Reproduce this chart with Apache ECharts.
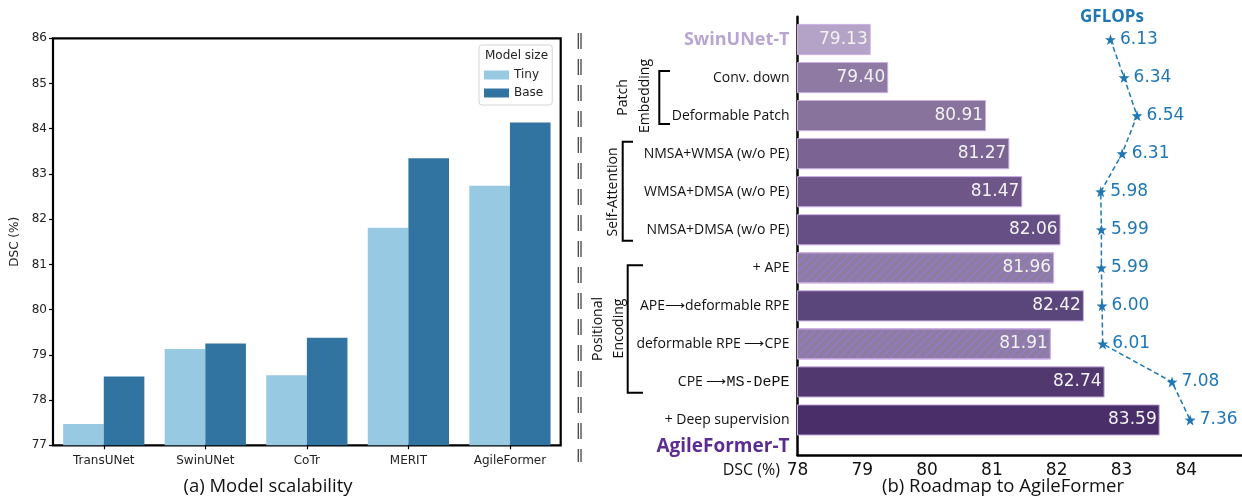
<!DOCTYPE html>
<html><head><meta charset="utf-8">
<script src="https://cdn.jsdelivr.net/npm/echarts@6/dist/echarts.min.js"></script>
<style>html,body{margin:0;padding:0;background:#fff}#c{width:1242px;height:497px}</style>
</head><body><div id="c"></div>
<script>
// ---------- data: (a) Model scalability ----------
const models = ['TransUNet', 'SwinUNet', 'CoTr', 'MERIT', 'AgileFormer'];
const sizeNames = ['Tiny', 'Base'];
const tinyDSC = [77.47, 79.13, 78.55, 81.81, 82.74];
const baseDSC = [78.52, 79.25, 79.38, 83.35, 84.14];
const dscTicksA = [77, 78, 79, 80, 81, 82, 83, 84, 85, 86];

// ---------- data: (b) Roadmap to AgileFormer ----------
const steps = ['SwinUNet-T', 'Conv. down', 'Deformable Patch', 'NMSA+WMSA (w/o PE)',
  'WMSA+DMSA (w/o PE)', 'NMSA+DMSA (w/o PE)', '+ APE', 'APE\u27F6deformable RPE',
  'deformable RPE \u27F6CPE', 'CPE \u27F6MS-DePE', '+ Deep supervision'];
const stepDSC = [79.13, 79.40, 80.91, 81.27, 81.47, 82.06, 81.96, 82.42, 81.91, 82.74, 83.59];
const stepGFLOPs = [6.13, 6.34, 6.54, 6.31, 5.98, 5.99, 5.99, 6.00, 6.01, 7.08, 7.36];
const dscTicksB = [78, 79, 80, 81, 82, 83, 84];
const finalModel = 'AgileFormer-T';

// ---------- styles ----------
const stepColors = ['#b4a3c6', '#8e7aa3', '#87739c', '#7b6493', '#6e5689', '#654f84',
  '#8c7da3', '#5b467b', '#8c7da3', '#51386f', '#4a2e69'];
const hatchedRows = [6, 8];
const gflopsColor = '#1f77b4';
const xMaxB = 84.86;     // right end of panel (b) x axis
const gflopsShift = 76.7; // GFLOPs drawn shifted onto DSC scale

const chart = echarts.init(document.getElementById('c'), null, {renderer: 'canvas'});

const stepData = stepDSC.map((v, i) => ({
  value: v,
  itemStyle: Object.assign({color: stepColors[i]}, hatchedRows.includes(i) ? {
    decal: {symbol: 'rect', symbolSize: 1, dashArrayX: [1, 0], dashArrayY: [1, 5],
      rotation: -Math.PI / 4, color: 'rgba(168,115,220,0.85)'}
  } : {})
}));

const starPath = 'path://M0,-10 L2.35,-3.24 L9.51,-3.09 L3.8,1.24 L5.88,8.09 L0,4 L-5.88,8.09 L-3.8,1.24 L-9.51,-3.09 L-2.35,-3.24 Z';

const option = {
  animation: false,
  backgroundColor: '#fff',
  grid: [
    {left: 53, right: 681.3, top: 38.3, bottom: 51.7, show: true, borderColor: '#000', borderWidth: 2.2, containLabel: false},
    {left: 797.5, right: 0, top: 20.5, bottom: 58, containLabel: false},
    {left: 797.5, right: 0, top: 16.7, bottom: 42, containLabel: false}
  ],
  xAxis: [
    {type: 'category', gridIndex: 0, data: models,
      axisLine: {show: false},
      axisTick: {show: true, alignWithLabel: true, length: 4, lineStyle: {color: '#000', width: 1.2}},
      axisLabel: {margin: 10, fontSize: 12, fontFamily: 'DejaVu Sans', color: '#222'}},
    {type: 'value', gridIndex: 1, min: dscTicksB[0], max: xMaxB, show: false},
    {type: 'value', gridIndex: 1, min: dscTicksB[0] - gflopsShift, max: xMaxB - gflopsShift, show: false},
    {type: 'value', gridIndex: 2, min: dscTicksB[0], max: xMaxB, interval: 1,
      splitLine: {show: false},
      axisLine: {show: true, onZero: false, lineStyle: {color: '#000', width: 2.5}},
      axisTick: {show: false},
      axisLabel: {margin: 7, fontSize: 17, fontFamily: 'DejaVu Sans', color: '#111', showMaxLabel: false,
        formatter: v => dscTicksB.includes(v) ? String(v) : ''}}
  ],
  yAxis: [
    {type: 'value', gridIndex: 0, min: dscTicksA[0], max: dscTicksA[dscTicksA.length - 1], interval: 1,
      splitLine: {show: false}, axisLine: {show: false},
      axisTick: {show: true, length: 4, lineStyle: {color: '#000', width: 1.2}},
      axisLabel: {margin: 6, fontSize: 12, fontFamily: 'DejaVu Sans', color: '#222'},
      name: 'DSC (%)', nameLocation: 'middle', nameGap: 32,
      nameTextStyle: {fontSize: 12, fontFamily: 'DejaVu Sans', color: '#222'}},
    {type: 'category', gridIndex: 1, data: steps, inverse: true,
      axisLine: {show: false}, axisTick: {show: false},
      axisLabel: {margin: 8, interval: 0,
        formatter: (v, i) => {
          if (i === 0) return '{swin|' + v + '}';
          if (i === steps.length - 1) return '{pad| }\n{n|' + v + '}\n{agile|' + finalModel + '}';
          if (v.indexOf('MS-DePE') >= 0) return '{n|' + v.replace('MS-DePE', '') + '}{mono|MS-DePE}';
          return '{n|' + v + '}';
        },
        rich: {
          n: {fontFamily: 'Open Sans', fontSize: 14, color: '#111', lineHeight: 24},
          mono: {fontFamily: 'Liberation Mono', fontSize: 15, color: '#111', lineHeight: 24},
          swin: {fontFamily: 'Open Sans', fontWeight: 'bold', fontSize: 18, color: '#b9a5d2'},
          agile: {fontFamily: 'Open Sans', fontWeight: 'bold', fontSize: 19, color: '#5c2d91', lineHeight: 30},
          pad: {fontSize: 10, lineHeight: 30}
        }}},
    {type: 'value', gridIndex: 2, min: 0, max: 1,
      splitLine: {show: false}, axisTick: {show: false}, axisLabel: {show: false},
      axisLine: {show: true, onZero: false, lineStyle: {color: '#000', width: 2.5}}}
  ],
  legend: {
    data: sizeNames, orient: 'vertical', left: 479, top: 45,
    icon: 'rect', itemWidth: 25, itemHeight: 9, itemGap: 6,
    padding: [24, 9, 6, 5],
    borderColor: '#d4d4d4', borderWidth: 1, borderRadius: 3,
    textStyle: {fontSize: 12, fontFamily: 'DejaVu Sans', color: '#222'}
  },
  series: [
    {name: sizeNames[0], type: 'bar', xAxisIndex: 0, yAxisIndex: 0, data: tinyDSC,
      barGap: '0%', barCategoryGap: '20%', itemStyle: {color: '#97c9e2'}},
    {name: sizeNames[1], type: 'bar', xAxisIndex: 0, yAxisIndex: 0, data: baseDSC,
      barGap: '0%', barCategoryGap: '20%', itemStyle: {color: '#3274a1'}},
    {name: 'DSC', type: 'bar', xAxisIndex: 1, yAxisIndex: 1, data: stepData,
      barCategoryGap: '18%',
      itemStyle: {borderColor: '#cdb0e6', borderWidth: 1},
      label: {show: true, position: 'insideRight', distance: 3,
        formatter: p => p.value.toFixed(2),
        fontSize: 17, fontFamily: 'DejaVu Sans', color: '#f2f2f2'}},
    {name: 'GFLOPs', type: 'line', xAxisIndex: 2, yAxisIndex: 1, data: stepGFLOPs, z: 5,
      symbol: starPath, symbolSize: 11,
      itemStyle: {color: gflopsColor},
      lineStyle: {color: gflopsColor, width: 1.5, type: [5, 3]},
      label: {show: true, position: 'right', distance: 4,
        formatter: p => p.value.toFixed(2),
        fontSize: 17, fontFamily: 'DejaVu Sans', color: gflopsColor}}
  ],
  graphic: [
    // legend title
    {type: 'text', x: 516.5, y: 56, style: {text: 'Model size', fontSize: 12, fontFamily: 'DejaVu Sans', fill: '#222', align: 'center', verticalAlign: 'middle'}},
    // axis title of panel (b)
    {type: 'text', x: 780, y: 470, style: {text: 'DSC (%)', fontSize: 16, fontFamily: 'Open Sans', fill: '#111', align: 'right', verticalAlign: 'middle'}},
    // subtitles
    {type: 'text', x: 268, y: 487, style: {text: '(a) Model scalability', fontSize: 18.5, fontFamily: 'Open Sans', fill: '#111', align: 'center', verticalAlign: 'middle'}},
    {type: 'text', x: 1003, y: 487, style: {text: '(b) Roadmap to AgileFormer', fontSize: 18.5, fontFamily: 'Open Sans', fill: '#111', align: 'center', verticalAlign: 'middle'}},
    {type: 'text', x: 1112, y: 17, style: {text: 'GFLOPs', fontSize: 17, fontWeight: 'bold', fontFamily: 'Open Sans', fill: gflopsColor, align: 'center', verticalAlign: 'middle'}},
    // separator
    {type: 'line', shape: {x1: 578.3, y1: 33, x2: 578.3, y2: 462}, style: {stroke: '#444', lineWidth: 1.3, lineDash: [16, 10]}},
    {type: 'line', shape: {x1: 581, y1: 33, x2: 581, y2: 462}, style: {stroke: '#444', lineWidth: 1.3, lineDash: [16, 10]}},
    // brackets
    {type: 'polyline', shape: {points: [[670, 71], [659.3, 71], [659.3, 124], [670, 124]]}, style: {stroke: '#000', lineWidth: 2, fill: null}},
    {type: 'polyline', shape: {points: [[633, 141.7], [622.7, 141.7], [622.7, 240.7], [633, 240.7]]}, style: {stroke: '#000', lineWidth: 2, fill: null}},
    {type: 'polyline', shape: {points: [[643, 265.3], [627.7, 265.3], [627.7, 392.7], [643, 392.7]]}, style: {stroke: '#000', lineWidth: 2, fill: null}},
    // group names
    {type: 'text', x: 623, y: 97.5, rotation: Math.PI / 2, style: {text: 'Patch', fontSize: 14, fontFamily: 'Open Sans', fill: '#111', align: 'center', verticalAlign: 'middle'}},
    {type: 'text', x: 645, y: 96, rotation: Math.PI / 2, style: {text: 'Embedding', fontSize: 14, fontFamily: 'Open Sans', fill: '#111', align: 'center', verticalAlign: 'middle'}},
    {type: 'text', x: 613, y: 192, rotation: Math.PI / 2, style: {text: 'Self-Attention', fontSize: 14, fontFamily: 'Open Sans', fill: '#111', align: 'center', verticalAlign: 'middle'}},
    {type: 'text', x: 598, y: 329, rotation: Math.PI / 2, style: {text: 'Positional', fontSize: 14, fontFamily: 'Open Sans', fill: '#111', align: 'center', verticalAlign: 'middle'}},
    {type: 'text', x: 619, y: 328.5, rotation: Math.PI / 2, style: {text: 'Encoding', fontSize: 14, fontFamily: 'Open Sans', fill: '#111', align: 'center', verticalAlign: 'middle'}}
  ]
};
chart.setOption(option);
</script></body></html>
